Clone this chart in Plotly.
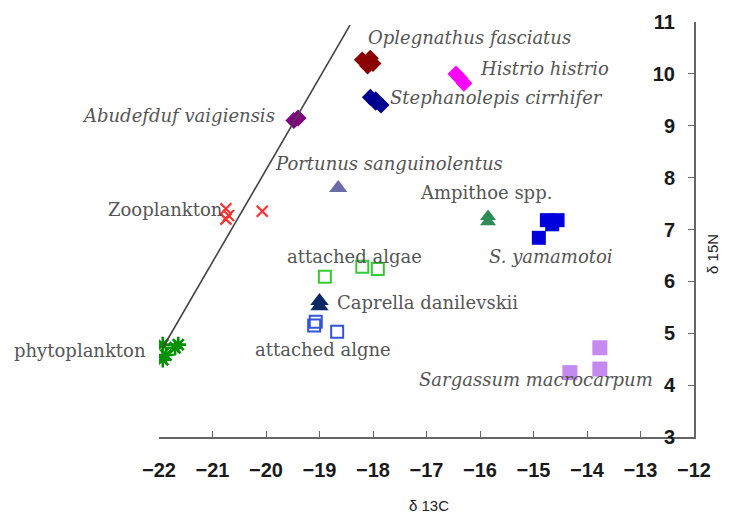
import plotly.graph_objects as go

# ---- data (delta 13C, delta 15N) ----
oplegnathus_x = [-18.20, -18.05, -18.00, -18.10]
oplegnathus_y = [10.27, 10.30, 10.20, 10.15]
stephanolepis_x = [-18.05, -17.95, -17.85, -17.95]
stephanolepis_y = [9.55, 9.50, 9.40, 9.45]
histrio_x = [-16.45, -16.38, -16.30]
histrio_y = [10.00, 9.92, 9.82]
abudefduf_x = [-19.48, -19.40]
abudefduf_y = [9.10, 9.15]
portunus_x = [-18.65]
portunus_y = [7.80]
zooplankton_x = [-20.75, -20.70, -20.75, -20.07]
zooplankton_y = [7.40, 7.27, 7.20, 7.35]
ampithoe_x = [-15.85, -15.85]
ampithoe_y = [7.25, 7.15]
yamamotoi_x = [-14.75, -14.55, -14.65, -14.90]
yamamotoi_y = [7.18, 7.18, 7.10, 6.84]
algae1_x = [-18.90, -18.20, -17.91]
algae1_y = [6.09, 6.28, 6.24]
caprella_x = [-19.00, -19.00]
caprella_y = [5.62, 5.52]
algae2_x = [-19.10, -19.07, -18.67]
algae2_y = [5.15, 5.22, 5.03]
phyto_x = [-21.93, -21.87, -21.70, -21.64, -21.93]
phyto_y = [4.78, 4.58, 4.72, 4.78, 4.49]
sargassum_x = [-14.32, -13.76, -13.76]
sargassum_y = [4.24, 4.72, 4.31]

trend_x = [-21.93, -18.43]
trend_y = [4.72, 10.94]

x_ticks = [-22, -21, -20, -19, -18, -17, -16, -15, -14, -13, -12]
y_ticks = [3, 4, 5, 6, 7, 8, 9, 10, 11]

label_text = ["Oplegnathus fasciatus", "Histrio histrio", "Stephanolepis cirrhifer",
              "Abudefduf vaigiensis", "Portunus sanguinolentus", "Zooplankton",
              "Ampithoe spp.", "S. yamamotoi", "attached algae", "Caprella danilevskii",
              "attached algne", "phytoplankton", "Sargassum macrocarpum"]
label_x = [-18.13, -16.04, -17.72, -19.79, -19.87, -20.77, -17.16, -15.87, -19.64,
           -18.71, -20.24, -22.00, -17.18]
label_y = [10.71, 10.11, 9.54, 9.20, 8.28, 7.38, 7.71, 6.47, 6.47, 5.60, 4.68, 4.66, 4.10]
label_anchor = ["left", "left", "left", "right", "left", "right", "left", "left", "left",
                "left", "left", "right", "left"]
label_italic = [True, True, True, True, True, False, False, True, False, False, False,
                False, True]
label_xshift = [0, 0, 0, 0, 0, 0, 0, 0, 0, 0, 0, -11, 0]

TICK_FONT = dict(family="Liberation Sans Narrow, Arial Narrow, Liberation Sans", size=20,
                 color="#1a1a1a", weight="bold")

fig = go.Figure()

fig.add_trace(go.Scatter(x=trend_x, y=trend_y, mode="lines", yaxis="y2",
                         line=dict(color="#444444", width=1.6), hoverinfo="skip"))

def add(x, y, symbol, color, size, lw=0):
    fig.add_trace(go.Scatter(
        x=x, y=y, mode="markers",
        marker=dict(symbol=symbol, color=color, size=size,
                    line=dict(color=color, width=lw))))

add(oplegnathus_x, oplegnathus_y, "diamond", "#8B0000", 13)
add(stephanolepis_x, stephanolepis_y, "diamond", "#000090", 13)
add(histrio_x, histrio_y, "diamond", "#FF00FF", 13)
add(abudefduf_x, abudefduf_y, "diamond", "#800080", 13)
add(portunus_x, portunus_y, "triangle-up", "#6B6BA8", 16)
add(zooplankton_x, zooplankton_y, "x-thin-open", "#FF3030", 11, 2.2)
add(ampithoe_x, ampithoe_y, "triangle-up", "#2E8B57", 14)
add(yamamotoi_x, yamamotoi_y, "square", "#0000DD", 14)
add(algae1_x, algae1_y, "square-open", "#33CC33", 12, 2)
add(caprella_x, caprella_y, "triangle-up", "#0A2A66", 16)
add(algae2_x, algae2_y, "square-open", "#3355DD", 12, 2)
add(phyto_x, phyto_y, "asterisk-open", "#009000", 13, 2.6)
add(sargassum_x, sargassum_y, "square", "#C58AF0", 15)

for t, x, y, a, it, xs in zip(label_text, label_x, label_y, label_anchor, label_italic,
                              label_xshift):
    fig.add_annotation(x=x, y=y, xref="x", yref="y", text=(f"<i>{t}</i>" if it else t),
                       showarrow=False, xanchor=a, yanchor="middle", xshift=xs,
                       font=dict(family="DejaVu Serif", size=18, color="#555555"))

fig.add_annotation(xref="paper", yref="paper", x=0.5047, y=-0.1639, text="δ 13C",
                   showarrow=False, xanchor="center", yanchor="middle",
                   font=dict(family="Liberation Sans", size=15, color="#222222"))
fig.add_annotation(xref="paper", yref="paper", x=1.0355, y=0.441, text="δ 15N",
                   showarrow=False, textangle=-90, xanchor="center", yanchor="middle",
                   font=dict(family="Liberation Sans", size=15, color="#222222"))

fig.update_layout(
    width=729, height=518,
    margin=dict(l=151, r=43, t=14, b=89, autoexpand=False),
    paper_bgcolor="white", plot_bgcolor="white",
    showlegend=False,
    xaxis=dict(range=[-22, -12], tickvals=x_ticks, ticks="inside", ticklen=6,
               tickcolor="#666666", showline=True, linecolor="#666666", linewidth=1.5,
               showgrid=False, zeroline=False, ticklabelstandoff=14, tickfont=TICK_FONT,
               automargin=False),
    yaxis=dict(range=[3, 11], tickvals=y_ticks, side="right", ticks="inside",
               ticklen=6, showticklabels=False, tickcolor="#666666",
               showline=True, linecolor="#666666", linewidth=1.5, showgrid=False,
               zeroline=False, automargin=False),
    yaxis2=dict(range=[3, 11], tickvals=y_ticks, overlaying="y", anchor="free",
                position=0.9645, side="left", ticks="", showline=False,
                showgrid=False, zeroline=False, tickfont=TICK_FONT, automargin=False),
)

fig.write_html("out.html")
